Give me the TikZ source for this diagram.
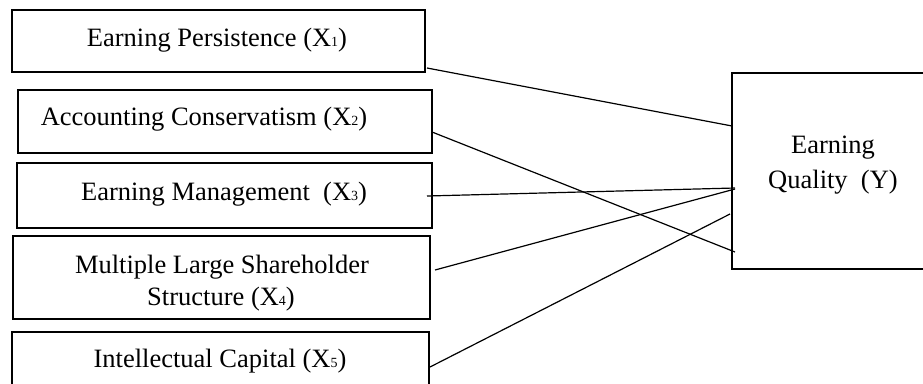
\documentclass[tikz,border=0pt]{standalone}
\usepackage{fontspec}
\setmainfont{Liberation Serif}
\newcommand{\sbx}[1]{\raisebox{-0.5pt}{\fontsize{14}{14}\selectfont #1}}
\begin{document}
\begin{tikzpicture}[x=1pt,y=-1pt,
  box/.style={draw=black,line width=2.6pt,inner sep=0pt},
  txt/.style={font=\fontsize{26.5}{32}\selectfont,inner sep=0pt,anchor=base},
  link/.style={draw=black,line width=1.2pt}]
\useasboundingbox (0,0) rectangle (923,383);
\clip (0,0) rectangle (923,383);
% boxes (named)
\node[box,minimum width=413pt,minimum height=62pt] (b1) at (218.5,41) {};
\node[box,minimum width=414pt,minimum height=63pt] (b2) at (225,121.5) {};
\node[box,minimum width=415pt,minimum height=65pt] (b3) at (224.5,195.5) {};
\node[box,minimum width=417pt,minimum height=83pt] (b4) at (221.5,277.5) {};
\node[box,minimum width=417pt,minimum height=64pt] (b5) at (220.5,364) {};
\node[box,minimum width=228pt,minimum height=196pt] (by) at (846,171) {};
% texts
\node[txt] (t1) at (217,46) {Earning Persistence (X\sbx{1})};
\node[txt] (t2) at (204,125) {Accounting Conservatism (X\sbx{2})};
\node[txt] (t3) at (224,200) {Earning Management\ \ (X\sbx{3})};
\node[txt] (t4a) at (222,273) {Multiple Large Shareholder};
\node[txt] (t4b) at (221,305) {Structure (X\sbx{4})};
\node[txt] (t5) at (220,367) {Intellectual Capital (X\sbx{5})};
\node[txt] (tya) at (833,153) {Earning};
\node[txt] (tyb) at (833,188) {Quality\ \ (Y)};
% connector ends
\coordinate (s1) at (427,68);
\coordinate (s2) at (432,132);
\coordinate (s3) at (427,196);
\coordinate (s4) at (435,270);
\coordinate (s5) at (430,367);
\coordinate (e1) at (732,126);
\coordinate (e2) at (735,252);
\coordinate (e3) at (735,188);
\coordinate (e4) at (735,189);
\coordinate (e5) at (730,214);
\draw[link] (s1) -- (e1);
\draw[link] (s2) -- (e2);
\draw[link] (s3) -- (e3);
\draw[link] (s4) -- (e4);
\draw[link] (s5) -- (e5);
\end{tikzpicture}
\end{document}
